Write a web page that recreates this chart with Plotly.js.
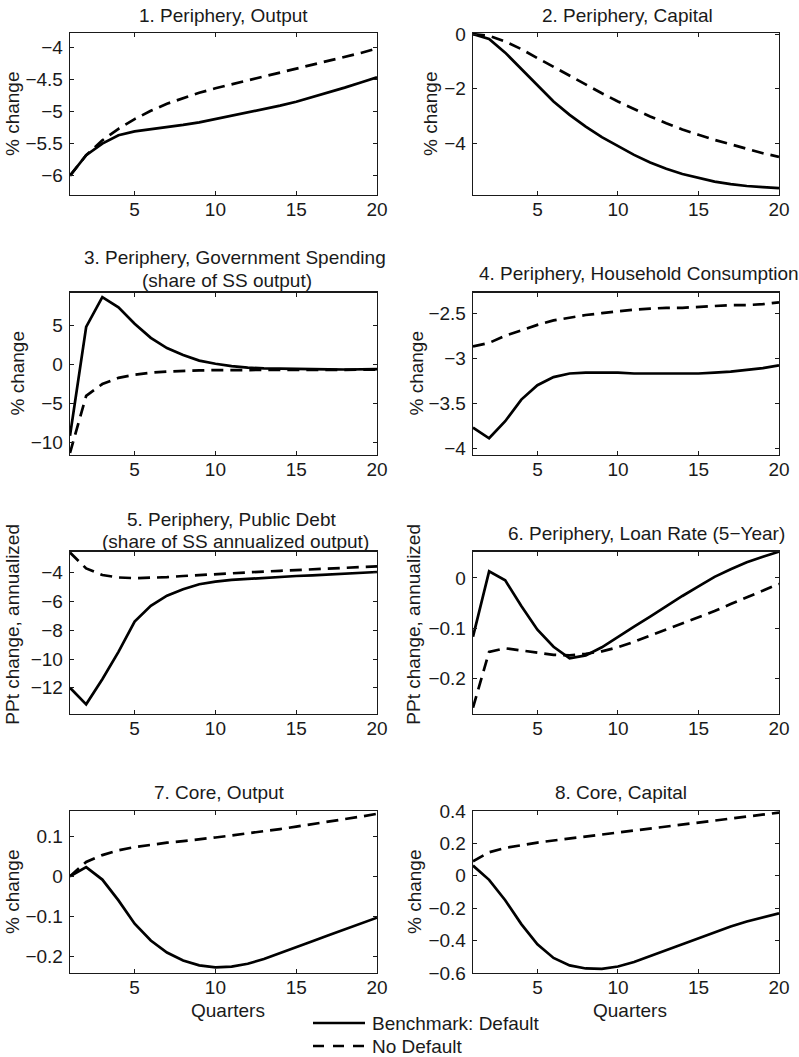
<!DOCTYPE html>
<html>
<head>
<meta charset="utf-8">
<script src="https://cdn.plot.ly/plotly-3.0.1.min.js"></script>
<style>
  html, body { margin: 0; padding: 0; background: #ffffff; }
  #chart { width: 799px; height: 1057px; }
</style>
</head>
<body>
<div id="chart"></div>
<script>
// ---------------- DATA ----------------
const quarters = [1,2,3,4,5,6,7,8,9,10,11,12,13,14,15,16,17,18,19,20];
const seriesNames = ["Benchmark: Default", "No Default"];

// 1. Periphery, Output
const periOutputDefault   = [-6.0,-5.68,-5.5,-5.37,-5.31,-5.28,-5.25,-5.21,-5.17,-5.12,-5.07,-5.02,-4.97,-4.91,-4.85,-4.78,-4.71,-4.63,-4.55,-4.47];
const periOutputNoDefault = [-6.0,-5.68,-5.45,-5.27,-5.12,-4.99,-4.88,-4.79,-4.71,-4.64,-4.58,-4.52,-4.46,-4.40,-4.34,-4.28,-4.22,-4.16,-4.09,-4.02];
// 2. Periphery, Capital
const periCapitalDefault   = [0,-0.18,-0.68,-1.28,-1.9,-2.47,-2.96,-3.39,-3.78,-4.12,-4.43,-4.71,-4.94,-5.13,-5.28,-5.41,-5.5,-5.57,-5.61,-5.65];
const periCapitalNoDefault = [0,-0.06,-0.27,-0.55,-0.88,-1.21,-1.53,-1.86,-2.17,-2.47,-2.75,-3.02,-3.27,-3.5,-3.69,-3.88,-4.04,-4.21,-4.37,-4.5];
// 3. Periphery, Government Spending
const periGovDefault   = [-9.1,4.8,8.6,7.3,5.2,3.4,2.1,1.2,0.5,0.1,-0.2,-0.4,-0.5,-0.55,-0.6,-0.62,-0.63,-0.64,-0.64,-0.6];
const periGovNoDefault = [-11.3,-4.0,-2.5,-1.7,-1.3,-1.05,-0.9,-0.8,-0.75,-0.72,-0.7,-0.69,-0.68,-0.68,-0.68,-0.68,-0.68,-0.68,-0.68,-0.66];
// 4. Periphery, Household Consumption
const periConsDefault   = [-3.77,-3.89,-3.7,-3.46,-3.3,-3.21,-3.17,-3.16,-3.16,-3.16,-3.17,-3.17,-3.17,-3.17,-3.17,-3.16,-3.15,-3.13,-3.11,-3.08];
const periConsNoDefault = [-2.87,-2.83,-2.75,-2.69,-2.63,-2.58,-2.55,-2.52,-2.5,-2.48,-2.46,-2.45,-2.44,-2.44,-2.43,-2.42,-2.41,-2.41,-2.4,-2.38];
// 5. Periphery, Public Debt
const periDebtDefault   = [-12.0,-13.15,-11.4,-9.5,-7.4,-6.3,-5.6,-5.15,-4.8,-4.62,-4.5,-4.42,-4.35,-4.28,-4.23,-4.18,-4.13,-4.08,-4.03,-3.95];
const periDebtNoDefault = [-2.6,-3.7,-4.16,-4.33,-4.38,-4.37,-4.31,-4.23,-4.16,-4.09,-4.03,-3.97,-3.92,-3.87,-3.82,-3.77,-3.72,-3.67,-3.62,-3.56];
// 6. Periphery, Loan Rate (5-Year)
const periLoanDefault   = [-0.117,0.013,-0.005,-0.056,-0.103,-0.137,-0.16,-0.154,-0.138,-0.117,-0.097,-0.077,-0.056,-0.036,-0.017,0.002,0.017,0.031,0.042,0.052];
const periLoanNoDefault = [-0.258,-0.147,-0.14,-0.144,-0.149,-0.153,-0.154,-0.151,-0.146,-0.138,-0.127,-0.115,-0.103,-0.091,-0.078,-0.066,-0.052,-0.039,-0.026,-0.012];
// 7. Core, Output
const coreOutputDefault   = [0,0.023,-0.008,-0.06,-0.118,-0.16,-0.19,-0.21,-0.222,-0.227,-0.225,-0.218,-0.206,-0.192,-0.177,-0.162,-0.147,-0.133,-0.118,-0.103];
const coreOutputNoDefault = [0,0.036,0.053,0.065,0.073,0.079,0.084,0.088,0.092,0.097,0.102,0.107,0.112,0.118,0.124,0.13,0.136,0.142,0.149,0.156];
// 8. Core, Capital
const coreCapitalDefault   = [0.063,-0.025,-0.151,-0.298,-0.423,-0.507,-0.553,-0.572,-0.574,-0.56,-0.532,-0.495,-0.457,-0.42,-0.383,-0.347,-0.313,-0.282,-0.256,-0.232];
const coreCapitalNoDefault = [0.09,0.145,0.172,0.19,0.205,0.218,0.23,0.242,0.254,0.266,0.278,0.291,0.303,0.315,0.327,0.339,0.351,0.363,0.376,0.39];

// Tick labels
const xTickVals = [5,10,15,20];
const yTicks1 = [-6,-5.5,-5,-4.5,-4];
const yTicks2 = [-4,-2,0];
const yTicks3 = [-10,-5,0,5];
const yTicks4 = [-4,-3.5,-3,-2.5];
const yTicks5 = [-12,-10,-8,-6,-4];
const yTicks6 = [-0.2,-0.1,0];
const yTicks7 = [-0.2,-0.1,0,0.1];
const yTicks8 = [-0.6,-0.4,-0.2,0,0.2,0.4];

// Titles
const panelTitles = [
  ["1. Periphery, Output"],
  ["2. Periphery, Capital"],
  ["3. Periphery, Government Spending", "(share of SS output)"],
  ["4. Periphery, Household Consumption"],
  ["5. Periphery, Public Debt", "(share of SS annualized output)"],
  ["6. Periphery, Loan Rate (5\u2212Year)"],
  ["7. Core, Output"],
  ["8. Core, Capital"]
];
const yTitles = ["% change","% change","% change","% change",
                 "PPt change, annualized","PPt change, annualized","% change","% change"];
const xTitle = "Quarters";

// ---------------- LAYOUT ----------------
const W = 799, H = 1057;
const px = x => x / W;
const py = y => 1 - y / H;
const FONT = "Liberation Sans, Arial, Helvetica, sans-serif";
const INK = "#1a1a1a";
const FS = 19;

const colX = [[70, 377], [473, 779]];
const rowY = [[33, 195], [292.5, 454.5], [551.7, 713.7], [811, 973]];

const panels = [
  {def: periOutputDefault,  nod: periOutputNoDefault,  yr: [-6.3, -3.78], yt: yTicks1,
   titleXY: [[223, 15]], ytX: 12},
  {def: periCapitalDefault, nod: periCapitalNoDefault, yr: [-5.9, 0.04], yt: yTicks2,
   titleXY: [[627, 15]], ytX: 430},
  {def: periGovDefault,     nod: periGovNoDefault,     yr: [-11.5, 9.2], yt: yTicks3,
   titleXY: [[235, 258], [227, 280]], ytX: 17},
  {def: periConsDefault,    nod: periConsNoDefault,    yr: [-4.07, -2.27], yt: yTicks4,
   titleXY: [[639, 273]], ytX: 416},
  {def: periDebtDefault,    nod: periDebtNoDefault,    yr: [-13.8, -2.54], yt: yTicks5,
   titleXY: [[231, 519], [235, 541]], ytX: 13},
  {def: periLoanDefault,    nod: periLoanNoDefault,    yr: [-0.27, 0.052], yt: yTicks6,
   titleXY: [[646, 533]], ytX: 414},
  {def: coreOutputDefault,  nod: coreOutputNoDefault,  yr: [-0.241, 0.163], yt: yTicks7,
   titleXY: [[219, 792]], ytX: 12},
  {def: coreCapitalDefault, nod: coreCapitalNoDefault, yr: [-0.6, 0.4], yt: yTicks8,
   titleXY: [[621, 792]], ytX: 414}
];

const traces = [];
const layout = {
  width: W, height: H,
  margin: {l: 0, r: 0, t: 0, b: 0},
  paper_bgcolor: "#ffffff",
  plot_bgcolor: "#ffffff",
  showlegend: false,
  font: {family: FONT, size: FS, color: INK},
  annotations: [],
  shapes: []
};

panels.forEach((p, i) => {
  const n = i + 1;
  const col = i % 2, row = Math.floor(i / 2);
  const xa = n === 1 ? "x" : "x" + n;
  const ya = n === 1 ? "y" : "y" + n;
  const xKey = n === 1 ? "xaxis" : "xaxis" + n;
  const yKey = n === 1 ? "yaxis" : "yaxis" + n;

  traces.push({
    x: quarters, y: p.def, xaxis: xa, yaxis: ya, type: "scatter", mode: "lines",
    name: seriesNames[0], line: {color: "#000000", width: 2.7, dash: "solid"},
    hoverinfo: "skip"
  });
  traces.push({
    x: quarters, y: p.nod, xaxis: xa, yaxis: ya, type: "scatter", mode: "lines",
    name: seriesNames[1], line: {color: "#000000", width: 2.7, dash: "12px,7px"},
    hoverinfo: "skip"
  });

  const common = {
    showgrid: false, zeroline: false, showline: true, linecolor: INK, linewidth: 1.3,
    mirror: "ticks", ticks: "inside", ticklen: 4, tickwidth: 1, tickcolor: INK,
    tickfont: {family: FONT, size: FS, color: INK}, fixedrange: true
  };
  layout[xKey] = Object.assign({}, common, {
    domain: [px(colX[col][0]), px(colX[col][1])],
    anchor: ya, range: [1, 20], tickmode: "array", tickvals: xTickVals,
    ticklabelstandoff: -3
  });
  layout[yKey] = Object.assign({}, common, {
    domain: [py(rowY[row][1]), py(rowY[row][0])],
    anchor: xa, range: p.yr, tickmode: "array", tickvals: p.yt, ticklabelstandoff: 2
  });

  // panel title(s)
  panelTitles[i].forEach((t, k) => {
    layout.annotations.push({
      text: t, xref: "paper", yref: "paper",
      x: px(p.titleXY[k][0]), y: py(p.titleXY[k][1]),
      xanchor: "center", yanchor: "middle", showarrow: false,
      font: {family: FONT, size: FS, color: INK}
    });
  });
  // y-axis title
  layout.annotations.push({
    text: yTitles[i], xref: "paper", yref: "paper",
    x: px(p.ytX), y: py((rowY[row][0] + rowY[row][1]) / 2 - (i >= 4 && i <= 5 ? 8 : 0)),
    xanchor: "center", yanchor: "middle", textangle: -90, showarrow: false,
    font: {family: FONT, size: FS, color: INK}
  });
  // x-axis title on bottom row
  if (row === 3) {
    layout.annotations.push({
      text: xTitle, xref: "paper", yref: "paper",
      x: px((colX[col][0] + colX[col][1]) / 2 + 4), y: py(1010),
      xanchor: "center", yanchor: "middle", showarrow: false,
      font: {family: FONT, size: FS, color: INK}
    });
  }
});

// legend (drawn as key samples + labels)
layout.shapes.push({type: "line", xref: "paper", yref: "paper",
  x0: px(313), x1: px(365), y0: py(1023), y1: py(1023),
  line: {color: "#000000", width: 2.7, dash: "solid"}});
layout.shapes.push({type: "line", xref: "paper", yref: "paper",
  x0: px(313), x1: px(365), y0: py(1046), y1: py(1046),
  line: {color: "#000000", width: 2.7, dash: "11px,9px"}});
layout.annotations.push({text: seriesNames[0], xref: "paper", yref: "paper",
  x: px(370), y: py(1023), xanchor: "left", yanchor: "middle", showarrow: false,
  font: {family: FONT, size: FS, color: INK}});
layout.annotations.push({text: seriesNames[1], xref: "paper", yref: "paper",
  x: px(370), y: py(1046), xanchor: "left", yanchor: "middle", showarrow: false,
  font: {family: FONT, size: FS, color: INK}});

Plotly.newPlot("chart", traces, layout, {staticPlot: true, displayModeBar: false});
</script>
</body>
</html>
